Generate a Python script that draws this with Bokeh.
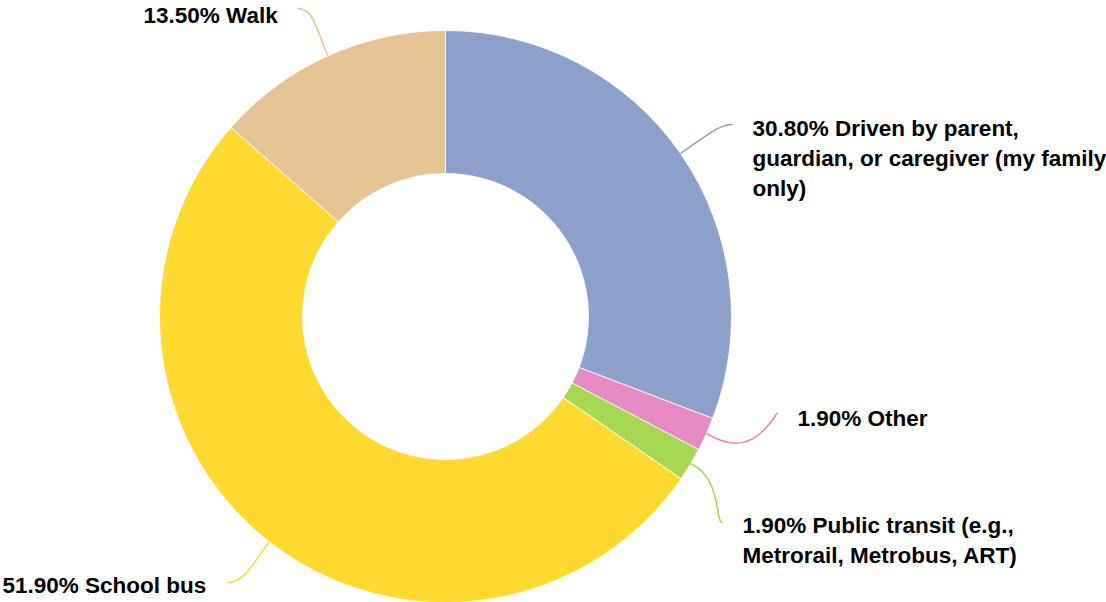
import math
from bokeh.plotting import figure
from bokeh.models import Range1d
from bokeh.core.properties import value
from bokeh.embed import file_html
from bokeh.resources import INLINE

# data
categories = ["Driven by parent,\nguardian, or caregiver (my family\nonly)",
              "Other",
              "Public transit (e.g.,\nMetrorail, Metrobus, ART)",
              "School bus",
              "Walk"]
shares = [30.80, 1.90, 1.90, 51.90, 13.50]
colors = ["#8DA0CB", "#E78AC3", "#A6D854", "#FFD92F", "#E5C494"]

W, H = 1106, 602
p = figure(width=W, height=H, output_backend="svg", toolbar_location=None,
           x_range=Range1d(0, W), y_range=Range1d(0, H), min_border=0)
p.axis.visible = False
p.grid.visible = False
p.outline_line_color = None
p.background_fill_color = "white"

def Y(sy):
    return H - sy

cx, cy = 445, Y(316)
total = sum(shares)
starts, ends = [], []
acc = 0.0
for s in shares:
    starts.append(math.pi / 2 - 2 * math.pi * acc / total)
    acc += s
    ends.append(math.pi / 2 - 2 * math.pi * acc / total)

p.annular_wedge(x=[cx] * len(shares), y=[cy] * len(shares), inner_radius=143, outer_radius=286,
                start_angle=starts, end_angle=ends, direction="clock",
                fill_color=colors, line_color="white", line_width=0.8)

# leader lines (layout)
leaders = [
    ((680, 153), (705, 136), (718, 124), (732, 124)),
    ((706, 433), (728, 446), (752, 452), (777, 412)),
    ((690, 463), (722, 478), (714, 522), (722, 522)),
    ((268, 542), (250, 568), (242, 582), (227, 582)),
    ((327, 55), (314, 22), (312, 8), (297, 8)),
]
for (a, b, c, d), col in zip(leaders, colors):
    p.bezier(x0=a[0], y0=Y(a[1]), cx0=b[0], cy0=Y(b[1]), cx1=c[0], cy1=Y(c[1]),
             x1=d[0], y1=Y(d[1]), line_color=col, line_width=1.5)

label_pos = [(752, 158), (797, 418), (742, 540), (2, 585), (143, 15)]
texts = ["%.2f%% %s" % (s, c) for s, c in zip(shares, categories)]
p.text(x=[q[0] for q in label_pos], y=[Y(q[1]) for q in label_pos], text=texts,
       text_font=value("Liberation Sans"), text_font_style="bold", text_font_size="22.5px",
       text_baseline="alphabetic", text_align="left", text_color="#000000",
       text_line_height=1.2)

open("out.html", "w").write(file_html(p, INLINE))
